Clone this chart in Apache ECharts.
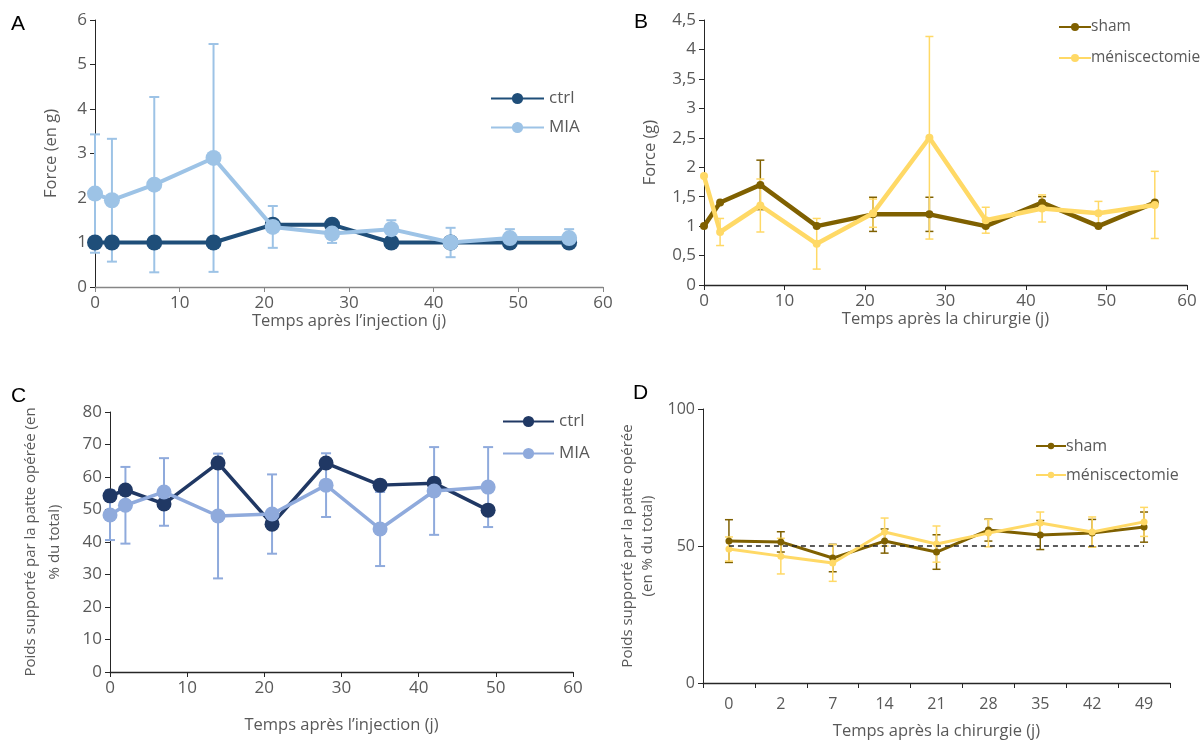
<!DOCTYPE html>
<html><head><meta charset="utf-8">
<script src="https://cdn.jsdelivr.net/npm/echarts@6/dist/echarts.min.js"></script>
<style>html,body{margin:0;padding:0;background:#fff}#c{width:1203px;height:744px}</style>
</head><body><div id="c"></div>
<script>
// ---- Panel A ----
const daysA = [0,2,7,14,21,28,35,42,49,56];
const ctrlA = [1,1,1,1,1.4,1.4,1,1,1,1];
const miaA = [2.1,1.95,2.3,2.9,1.35,1.2,1.3,1.0,1.1,1.1];
const miaA_sd = [1.33,1.38,1.97,2.56,0.47,0.21,0.2,0.33,0.2,0.2];
// ---- Panel B ----
const daysB = [0,2,7,14,21,28,35,42,49,56];
const shamB = [1.0,1.4,1.7,1.0,1.2,1.2,1.0,1.4,1.0,1.4];
const shamB_sd = [0,0,0.42,0,0.29,0.29,0,0.1,0,0];
const menB = [1.85,0.9,1.35,0.7,1.22,2.5,1.1,1.3,1.22,1.36];
const menB_sd = [0,0.23,0.45,0.43,0.24,1.72,0.22,0.23,0.2,0.57];
// ---- Panel C ----
const daysC = [0,2,7,14,21,28,35,42,49];
const ctrlC = [54.2,56,51.7,64.3,45.5,64.3,57.5,58.1,49.8];
const miaC = [48.3,51.3,55.4,48.0,48.6,57.5,44.0,55.7,56.9];
const miaC_sd = [7.7,11.8,10.4,19.2,12.2,9.8,11.4,13.5,12.3];
// ---- Panel D ----
const catsD = ['0','2','7','14','21','28','35','42','49'];
const shamD = [51.8,51.5,45.6,51.8,47.8,55.8,54,54.7,56.9];
const shamD_sd = [7.8,3.7,5,4.4,6.3,4,5.3,5,5.5];
const menD = [48.9,46.3,43.8,55.1,50.7,54.7,58.4,55.1,58.8];
const menD_sd = [4.4,6.5,6.7,5.1,6.6,5,4,5.5,5.3];
const refD = 50;

const FONT = 'Open Sans';
const GREY = '#595959';
const C = {ctrlA:'#1F4E79', miaA:'#9DC3E6', sham:'#7F6000', men:'#FFD966', ctrlC:'#203864', miaC:'#8FAADC'};

function pairs(xs, ys){ return xs.map((x,i)=>[x, ys[i]]); }
function errData(xs, ys, sd){ return xs.map((x,i)=>[x, ys[i]-sd[i], ys[i]+sd[i]]).filter((d,i)=>sd[i]>0); }
function errSeries(idx, data, color, cap, lw){
  return {type:'custom', xAxisIndex:idx, yAxisIndex:idx, data:data, z:1, silent:true,
    encode:{x:0, y:[1,2]},
    renderItem:function(params, api){
      const x = api.value(0);
      const lo = api.coord([x, api.value(1)]);
      const hi = api.coord([x, api.value(2)]);
      const st = {stroke:color, lineWidth:lw};
      return {type:'group', children:[
        {type:'line', shape:{x1:lo[0],y1:lo[1],x2:hi[0],y2:hi[1]}, style:st},
        {type:'line', shape:{x1:lo[0]-cap,y1:lo[1],x2:lo[0]+cap,y2:lo[1]}, style:st},
        {type:'line', shape:{x1:hi[0]-cap,y1:hi[1],x2:hi[0]+cap,y2:hi[1]}, style:st}
      ]};
    }};
}
function lineS(idx, name, data, color, lw, sym, z){
  return {type:'line', name:name, xAxisIndex:idx, yAxisIndex:idx, data:data, z:z,
    symbol:'circle', symbolSize:sym, showSymbol:true,
    lineStyle:{color:color, width:lw}, itemStyle:{color:color}};
}
const lab = {color:GREY, fontFamily:FONT, fontSize:17};
const nameSt = {color:GREY, fontFamily:FONT, fontSize:16.5};
function yAx(idx, min, max, interval, name, gap, lineColor, fmt, nameStyle){
  return {type:'value', gridIndex:idx, min:min, max:max, interval:interval,
    name:name, nameLocation:'middle', nameGap:gap, nameRotate:90, nameTextStyle:nameStyle||nameSt,
    axisLine:{show:true, lineStyle:{color:lineColor, width:1}},
    axisTick:{show:true, length:5, lineStyle:{color:lineColor}},
    axisLabel:Object.assign({margin:8, formatter:fmt||null}, lab), splitLine:{show:false}};
}
function xAx(idx, name, gap, lineColor){
  return {type:'value', gridIndex:idx, min:0, max:60, interval:10,
    name:name, nameLocation:'middle', nameGap:gap, nameTextStyle:nameSt,
    axisLine:{show:true, onZero:false, lineStyle:{color:lineColor, width:1.3}},
    axisTick:{show:true, length:5, lineStyle:{color:lineColor}},
    axisLabel:Object.assign({margin:8}, lab), splitLine:{show:false}};
}

const chart = echarts.init(document.getElementById('c'), null, {renderer:'canvas'});
const option = {
  animation:false,
  backgroundColor:'#fff',
  textStyle:{fontFamily:FONT},
  grid:[
    {left:95, right:600, top:20, bottom:457},
    {left:704, right:16, top:20, bottom:459},
    {left:110, right:630, top:412, bottom:72},
    {left:703, right:33, top:409, bottom:61}
  ],
  xAxis:[
    xAx(0, 'Temps après l\u2019injection (j)', 14, '#868686'),
    xAx(1, 'Temps après la chirurgie (j)', 12, '#262626'),
    xAx(2, 'Temps après l\u2019injection (j)', 45, '#262626'),
    {type:'category', gridIndex:3, data:catsD, boundaryGap:true,
      name:'Temps après la chirurgie (j)', nameLocation:'middle', nameGap:40, nameTextStyle:nameSt,
      axisLine:{show:true, lineStyle:{color:'#262626', width:1.3}},
      axisTick:{show:true, length:5, alignWithLabel:false, lineStyle:{color:'#262626'}},
      axisLabel:Object.assign({margin:13}, lab, {fontSize:16})}
  ],
  yAxis:[
    yAx(0, 0, 6, 1, 'Force (en g)', 35, '#262626'),
    yAx(1, 0, 4.5, 0.5, 'Force (g)', 45, '#262626', v=>String(v).replace('.',',')),
    yAx(2, 0, 80, 10, 'Poids supporté par la patte opérée (en\n% du total)', 43, '#262626', null,
        {color:GREY, fontFamily:FONT, fontSize:15, lineHeight:24}),
    Object.assign(yAx(3, 0, 100, 50, 'Poids supporté par la patte opérée\n(en % du total)', 45, '#262626', null,
        {color:GREY, fontFamily:FONT, fontSize:15, lineHeight:20}), {axisLabel:Object.assign({margin:8}, lab, {fontSize:16})})
  ],
  legend:[
    {left:485, top:85, orient:'vertical', itemWidth:53, itemHeight:14, itemGap:12,
     data:['ctrl','MIA'], textStyle:{color:GREY, fontFamily:FONT, fontSize:17}, selectedMode:false},
    {left:1053, top:14, orient:'vertical', itemWidth:32, itemHeight:10, itemGap:15,
     data:['sham','méniscectomie'], textStyle:{color:GREY, fontFamily:FONT, fontSize:15.5, padding:[0,0,0,-5]}, selectedMode:false},
    {left:497, top:408, orient:'vertical', itemWidth:51, itemHeight:14, itemGap:15,
     data:['ctrl ','MIA '], textStyle:{color:GREY, fontFamily:FONT, fontSize:17}, selectedMode:false},
    {left:1030, top:433, orient:'vertical', itemWidth:30, itemHeight:8, itemGap:13,
     data:['sham ','méniscectomie '], textStyle:{color:GREY, fontFamily:FONT, fontSize:16, padding:[0,0,0,-5]}, selectedMode:false}
  ],
  graphic:[
    {type:'text', left:11, top:14, style:{text:'A', fontFamily:'Liberation Sans', fontSize:21, fill:'#000'}},
    {type:'text', left:634, top:12, style:{text:'B', fontFamily:'Liberation Sans', fontSize:21, fill:'#000'}},
    {type:'text', left:11, top:386, style:{text:'C', fontFamily:'Liberation Sans', fontSize:21, fill:'#000'}},
    {type:'text', left:633, top:383, style:{text:'D', fontFamily:'Liberation Sans', fontSize:21, fill:'#000'}}
  ],
  series:[
    errSeries(0, errData(daysA, miaA, miaA_sd), C.miaA, 5, 2),
    lineS(0, 'ctrl', pairs(daysA, ctrlA), C.ctrlA, 4, 16, 2),
    lineS(0, 'MIA', pairs(daysA, miaA), C.miaA, 4, 16, 3),

    errSeries(1, errData(daysB, shamB, shamB_sd), C.sham, 4, 1.5),
    errSeries(1, errData(daysB, menB, menB_sd), C.men, 4, 1.5),
    lineS(1, 'sham', pairs(daysB, shamB), C.sham, 4.5, 8, 2),
    lineS(1, 'méniscectomie', pairs(daysB, menB), C.men, 4.5, 8, 3),

    errSeries(2, errData(daysC, miaC, miaC_sd), C.miaC, 5, 2),
    lineS(2, 'ctrl ', pairs(daysC, ctrlC), C.ctrlC, 3.5, 15, 2),
    lineS(2, 'MIA ', pairs(daysC, miaC), C.miaC, 3.5, 15, 3),

    errSeries(3, errData(catsD.map((c,i)=>i), shamD, shamD_sd), C.sham, 4, 1.5),
    errSeries(3, errData(catsD.map((c,i)=>i), menD, menD_sd), C.men, 4, 1.5),
    Object.assign(lineS(3, 'sham ', shamD, C.sham, 3, 7, 3), {
      markLine:{silent:true, symbol:'none', label:{show:false},
        lineStyle:{color:'#262626', type:[5,4], width:1.5},
        data:[[{coord:[0, refD]},{coord:[catsD.length-1, refD]}]]}}),
    lineS(3, 'méniscectomie ', menD, C.men, 3, 7, 4)
  ]
};
chart.setOption(option);
</script>
</body></html>
